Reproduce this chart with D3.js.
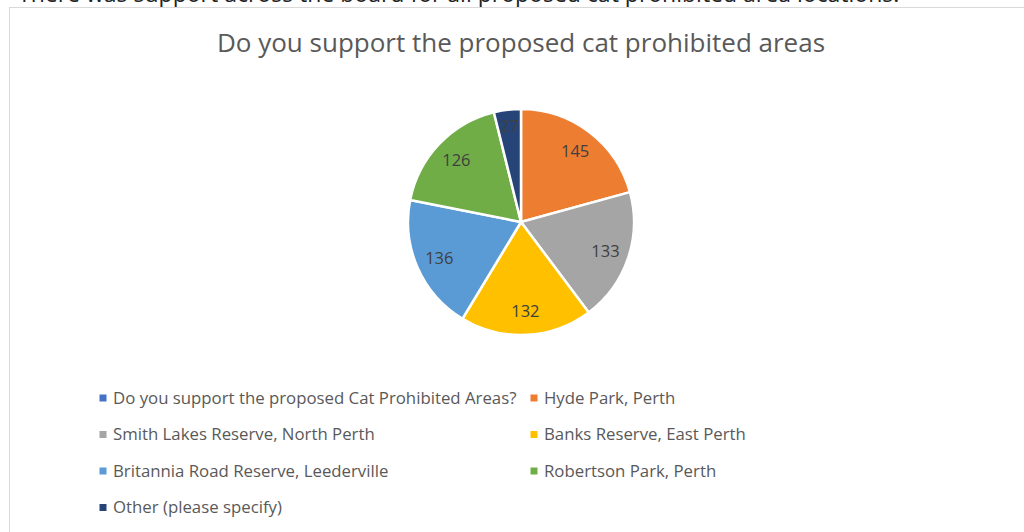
<!DOCTYPE html>
<html>
<head>
<meta charset="utf-8">
<script src="https://cdn.jsdelivr.net/npm/d3@7/dist/d3.min.js"></script>
<style>
  html, body { margin: 0; padding: 0; background: #fff; }
  svg { display: block; }
</style>
</head>
<body>
<svg id="chart" width="1024" height="532"></svg>
<script>
// Survey responses per proposed cat prohibited area
const categories = [
  "Do you support the proposed Cat Prohibited Areas?",
  "Hyde Park, Perth",
  "Smith Lakes Reserve, North Perth",
  "Banks Reserve, East Perth",
  "Britannia Road Reserve, Leederville",
  "Robertson Park, Perth",
  "Other (please specify)"
];
const values = [0, 145, 133, 132, 136, 126, 27];
const colors = ["#4472C4", "#ED7D31", "#A5A5A5", "#FFC000", "#5B9BD5", "#70AD47", "#264478"];

const title = "Do you support the proposed cat prohibited areas";
const caption = "There was support across the board for all proposed cat prohibited area locations.";

const svg = d3.select("#chart");
const W = 1024, H = 532;
const font = "'Open Sans', 'Noto Sans', sans-serif";

// caption text above the chart, clipped by the top of the page
svg.append("text")
  .attr("x", 18).attr("y", 2)
  .attr("font-family", font).attr("font-size", 23)
  .attr("fill", "#222")
  .text(caption);

// chart area frame
svg.append("rect")
  .attr("x", 9.5).attr("y", 7.5)
  .attr("width", W + 10).attr("height", H + 10)
  .attr("fill", "#fff").attr("stroke", "#d9d9d9").attr("stroke-width", 1);

svg.append("text")
  .attr("x", 521).attr("y", 52)
  .attr("text-anchor", "middle")
  .attr("font-family", font).attr("font-size", 26)
  .attr("fill", "#595959")
  .text(title);

// pie
const cx = 521, cy = 222, r = 113;
const data = categories.map((c, i) => ({ name: c, value: values[i], color: colors[i] }));
const pie = d3.pie().value(d => d.value).sort(null);
const arcs = pie(data);
const arc = d3.arc().innerRadius(0).outerRadius(r);
// thin slices get their label pushed further out
const labelPos = d => {
  const f = (d.endAngle - d.startAngle) < 0.4 ? 0.85 : 0.79;
  return d3.arc().innerRadius(r * f).outerRadius(r * f).centroid(d);
};

const g = svg.append("g").attr("transform", `translate(${cx},${cy})`);
g.selectAll("path.slice")
  .data(arcs.filter(a => a.data.value > 0))
  .join("path")
  .attr("class", "slice")
  .attr("d", arc)
  .attr("fill", d => d.data.color)
  .attr("stroke", "#fff")
  .attr("stroke-width", 2.5)
  .attr("stroke-linejoin", "round");

g.selectAll("text.val")
  .data(arcs.filter(a => a.data.value > 0))
  .join("text")
  .attr("class", "val")
  .attr("transform", d => `translate(${labelPos(d)})`)
  .attr("text-anchor", "middle")
  .attr("dy", "0.35em")
  .attr("font-family", font).attr("font-size", 16.5)
  .attr("fill", "#404040")
  .text(d => d.data.value);

// legend: two columns
const colX = [103, 534];
const rowY0 = 398, rowStep = 36.5;
const leg = svg.append("g");
data.forEach((d, i) => {
  const x = colX[i % 2];
  const y = rowY0 + Math.floor(i / 2) * rowStep;
  leg.append("rect")
    .attr("x", x - 3.5).attr("y", y - 3.5)
    .attr("width", 7).attr("height", 7)
    .attr("fill", d.color);
  leg.append("text")
    .attr("x", x + 10).attr("y", y)
    .attr("dy", "0.35em")
    .attr("font-family", font).attr("font-size", 16.8)
    .attr("fill", "#595959")
    .text(d.name);
});
</script>
</body>
</html>
